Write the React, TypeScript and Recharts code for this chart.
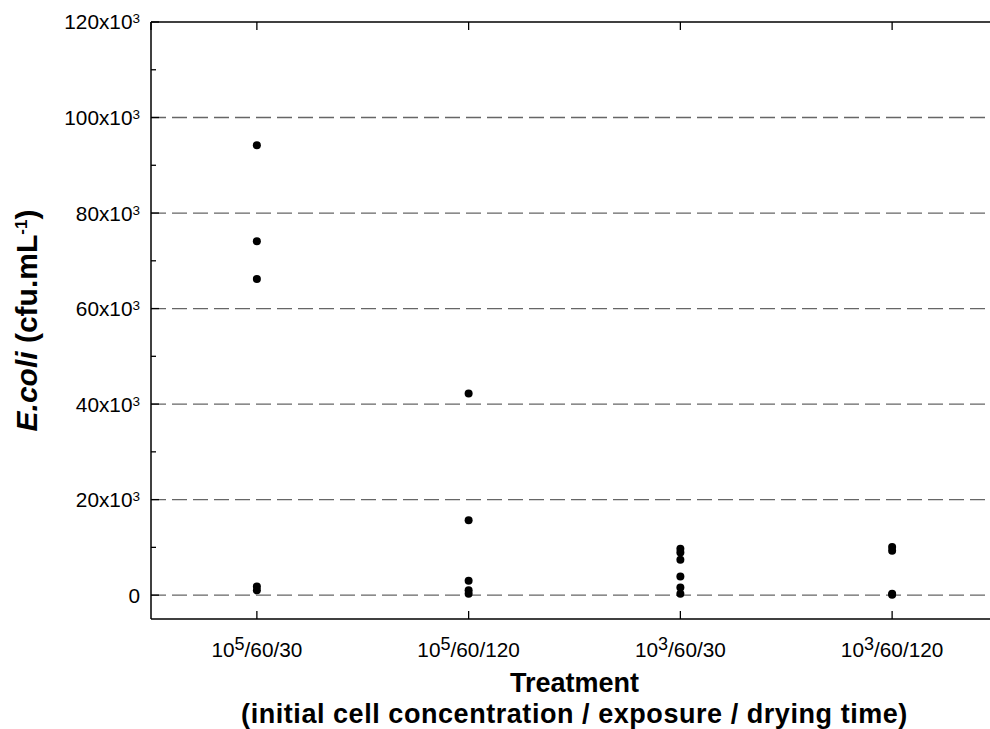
import { ScatterChart, Scatter, XAxis, YAxis, ReferenceLine } from "recharts";

const FONT = "'Liberation Sans', Arial, Helvetica, sans-serif";

// treatment labels: 10^exp / exposure / drying time
const treatmentBase = ["10", "10", "10", "10"];
const treatmentExp = ["5", "5", "3", "3"];
const treatmentRest = ["/60/30", "/60/120", "/60/30", "/60/120"];
const treatmentPos = [1, 2, 3, 4];

// E. coli counts (cfu/mL) per treatment
const cfu_1e5_60_30 = [94200, 74100, 66200, 1800, 1000];
const cfu_1e5_60_120 = [42200, 15700, 3000, 1000, 300];
const cfu_1e3_60_30 = [9700, 8900, 7400, 3900, 1600, 300];
const cfu_1e3_60_120 = [10100, 9300, 300, 100];

const yTicks = [0, 10000, 20000, 30000, 40000, 50000, 60000, 70000, 80000, 90000, 100000, 110000, 120000];
const gridValues = [0, 20000, 40000, 60000, 80000, 100000];
const yTop = 120000;
const xDomain = [0.5, 4.5];

const points = [cfu_1e5_60_30, cfu_1e5_60_120, cfu_1e3_60_30, cfu_1e3_60_120].flatMap(
  (vals, i) => vals.map((v) => ({ x: treatmentPos[i], y: v }))
);

// top frame: runs along y = yTop across the x range, with a stub at each treatment
const topFrame = [xDomain[0], ...treatmentPos, xDomain[1]].map((x) => ({ x, y: yTop }));

const YTick = ({ x, y, payload }: any) => {
  const v = payload.value;
  const major = v % 20000 === 0;
  return (
    <g>
      <line x1={x} y1={y} x2={x + (major ? 8 : 5)} y2={y} stroke="#000" strokeWidth={1.3} />
      {major && (
        <text x={x - 11} y={y} dy="0.36em" textAnchor="end" fontSize={20.8} fill="#000" fontFamily={FONT}>
          {v === 0 ? (
            "0"
          ) : (
            <>
              {v / 1000}x10
              <tspan dy={-6} fontSize={13.5}>3</tspan>
            </>
          )}
        </text>
      )}
    </g>
  );
};

const XTick = ({ x, y, payload }: any) => {
  const i = treatmentPos.indexOf(payload.value);
  return (
    <g>
      <line x1={x} y1={y} x2={x} y2={y - 8} stroke="#000" strokeWidth={1.3} />
      <text x={x} y={y + 38} textAnchor="middle" fontSize={20.8} fill="#000" fontFamily={FONT}>
        {treatmentBase[i]}
        <tspan dy={-7} fontSize={18}>{treatmentExp[i]}</tspan>
        <tspan dy={7} fontSize={20.8}>{treatmentRest[i]}</tspan>
      </text>
    </g>
  );
};

// downward stub on the top frame
const TopStub = (props: any) => {
  const { cx, cy } = props;
  if (!Number.isFinite(cx) || !Number.isFinite(cy)) return <g />;
  return <line x1={cx} y1={cy} x2={cx} y2={cy + 8} stroke="#000" strokeWidth={1.3} />;
};

const XTitle = ({ viewBox }: any) => {
  const cx = viewBox.x + viewBox.width / 2;
  return (
    <text textAnchor="middle" fontSize={27} fontWeight="bold" fill="#000" fontFamily={FONT}>
      <tspan x={cx} y={692}>Treatment</tspan>
      <tspan x={cx} y={723} letterSpacing={0.55}>
        (initial cell concentration / exposure / drying time)
      </tspan>
    </text>
  );
};

const YTitle = ({ viewBox }: any) => {
  const cy = viewBox.y + viewBox.height / 2;
  const tx = 37;
  return (
    <text
      x={tx}
      y={cy}
      transform={`rotate(-90, ${tx}, ${cy})`}
      textAnchor="middle"
      fontSize={30}
      fontWeight="bold"
      fill="#000"
      fontFamily={FONT}
    >
      <tspan fontStyle="italic">E.coli</tspan> (cfu.mL
      <tspan dy={-10} fontSize={17}>-1</tspan>
      <tspan dy={10}>)</tspan>
    </text>
  );
};

const Dot = (props: any) => <circle cx={props.cx} cy={props.cy} r={4} fill="#000" />;

export default function App() {
  return (
    <div style={{ position: "fixed", left: 0, top: 0, width: 990, height: 729, overflow: "hidden", background: "#fff" }}>
      <ScatterChart width={1010} height={729} margin={{ top: 22, right: 12, left: 0, bottom: 0 }}>
        <XAxis
          type="number"
          dataKey="x"
          domain={xDomain}
          ticks={treatmentPos}
          height={110}
          axisLine={{ stroke: "#000", strokeWidth: 1.5 }}
          tickLine={false}
          tickSize={0}
          tickMargin={0}
          tick={<XTick />}
          label={{ content: <XTitle /> }}
        />
        <YAxis
          type="number"
          dataKey="y"
          domain={[-5000, yTop]}
          ticks={yTicks}
          width={151}
          axisLine={{ stroke: "#000", strokeWidth: 1.5 }}
          tickLine={false}
          tickSize={0}
          tickMargin={0}
          tick={<YTick />}
          label={{ content: <YTitle /> }}
        />
        {gridValues.map((v) => (
          <ReferenceLine key={v} y={v} stroke="#666" strokeWidth={1.3} strokeDasharray="15 6" />
        ))}
        <Scatter
          data={topFrame}
          line={{ stroke: "#000", strokeWidth: 1.5 }}
          shape={<TopStub />}
          isAnimationActive={false}
        />
        <Scatter data={points} shape={<Dot />} isAnimationActive={false} />
      </ScatterChart>
    </div>
  );
}
